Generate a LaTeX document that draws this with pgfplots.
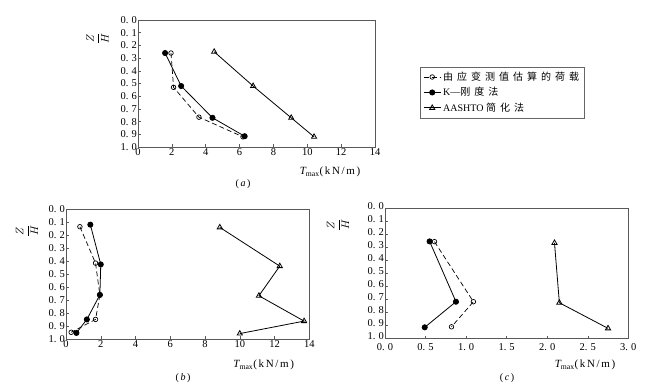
\documentclass[border=0pt]{standalone}
\usepackage{fontspec}
\setmainfont{Liberation Serif}
\newfontfamily\cjk[LetterSpace=40]{Noto Sans CJK SC}
\newfontfamily\wide[LetterSpace=15]{Liberation Serif}
\usepackage{pgfplots}
\pgfplotsset{compat=1.18}

\pgfplotsset{
  panel/.style={
    scale only axis,
    y dir=reverse, ymin=0, ymax=1,
    ytick={0,0.1,0.2,0.3,0.4,0.5,0.6,0.7,0.8,0.9,1},
    tick align=inside, tick pos=left,
    axis line style={black!65, line width=0.6pt},
    major tick length=3pt,
    tick style={black!65, line width=0.5pt},
    ticklabel style={font=\fontsize{10.5}{12}\selectfont},
    /pgf/number format/assume math mode=true,
    yticklabel style={/pgf/number format/fixed, /pgf/number format/fixed zerofill,
      /pgf/number format/precision=1, /pgf/number format/dec sep={.\hspace{3pt}}, inner xsep=1pt},
    xticklabel style={inner ysep=1.5pt},
  },
  openc/.style={black, line width=0.7pt, dash pattern=on 5pt off 3pt, mark=o, mark size=2.3pt, mark options={solid, fill=white}},
  fillc/.style={black, line width=0.8pt, solid, mark=*, mark size=2.6pt, mark options={solid}},
  tri/.style={black, line width=0.8pt, solid, mark=triangle, mark size=3pt, mark options={solid, fill=white}},
}

\begin{document}
\begin{tikzpicture}[x=1pt,y=1pt]
\path[use as bounding box] (0,0) rectangle (650,384);

% ---------- (a)
\begin{axis}[panel, at={(138pt,237pt)}, anchor=south west, width=237pt, height=127pt,
  xmin=0, xmax=14, xtick={0,2,...,14},
  legend style={at={(axis description cs:1.19,0.632)}, anchor=north west, draw=black!60,
    line width=0.5pt, font=\fontsize{10}{12}\selectfont, inner xsep=3pt, inner ysep=3pt,
    row sep=1.5pt, cells={anchor=west}},
]
\addplot[openc] coordinates {(1.95,0.26) (2.1,0.53) (3.6,0.765) (6.2,0.92)};
\addlegendentry{{\cjk 由应变测值估算的荷载}}
\addplot[fillc] coordinates {(1.6,0.26) (2.55,0.52) (4.4,0.77) (6.3,0.915)};
\addlegendentry{K—{\cjk 刚度法}}
\addplot[tri] coordinates {(4.5,0.25) (6.8,0.52) (9.05,0.77) (10.4,0.92)};
\addlegendentry{AASHTO {\cjk 简化法}}
\end{axis}

% ---------- (b)
\begin{axis}[panel, at={(66pt,44.7pt)}, anchor=south west, width=243.3pt, height=130pt,
  xmin=0, xmax=14, xtick={0,2,...,14}]
\addplot[openc] coordinates {(0.8,0.134) (1.7,0.414) (1.95,0.66) (1.7,0.847) (0.3,0.946)};
\addplot[fillc] coordinates {(1.4,0.118) (2.0,0.424) (1.95,0.658) (1.2,0.847) (0.6,0.951)};
\addplot[tri] coordinates {(8.85,0.139) (12.3,0.437) (11.1,0.665) (13.7,0.86) (10.0,0.956)};
\end{axis}

% ---------- (c)
\begin{axis}[panel, at={(385pt,45.5pt)}, anchor=south west, width=243.3pt, height=130pt,
  xmin=0, xmax=3, xtick={0,0.5,1,1.5,2,2.5,3},
  yticklabel style={yshift=2pt},
  xticklabel style={inner ysep=4.5pt, /pgf/number format/fixed, /pgf/number format/fixed zerofill,
      /pgf/number format/precision=1, /pgf/number format/dec sep={.\hspace{3pt}}}]
\addplot[openc] coordinates {(0.61,0.255) (1.09,0.717) (0.82,0.91)};
\addplot[fillc] coordinates {(0.55,0.253) (0.875,0.717) (0.49,0.914)};
\addplot[tri] coordinates {(2.09,0.265) (2.15,0.725) (2.75,0.922)};
\end{axis}

% ---------- labels
\node[rotate=90, font=\fontsize{11}{13}\selectfont] at (97.5,345.5) {$\displaystyle\frac{Z}{H}$};
\node[rotate=90, font=\fontsize{11}{13}\selectfont] at (27,153) {$\displaystyle\frac{Z}{H}$};
\node[rotate=90, font=\fontsize{11}{13}\selectfont] at (338,159) {$\displaystyle\frac{Z}{H}$};

\node[font=\fontsize{11}{13}\selectfont] at (330,212) {{\itshape T}\textsubscript{max}{\wide(kN/m)}};
\node[font=\fontsize{11}{13}\selectfont] at (263.7,19) {{\itshape T}\textsubscript{max}{\wide(kN/m)}};
\node[font=\fontsize{11}{13}\selectfont] at (585,19) {{\itshape T}\textsubscript{max}{\wide(kN/m)}};

\node[font=\fontsize{10}{12}\selectfont] at (243,200) {(\,\textit{a}\,)};
\node[font=\fontsize{10}{12}\selectfont] at (183,6) {(\,\textit{b}\,)};
\node[font=\fontsize{10}{12}\selectfont] at (507,5.5) {(\,\textit{c}\,)};
\end{tikzpicture}
\end{document}
